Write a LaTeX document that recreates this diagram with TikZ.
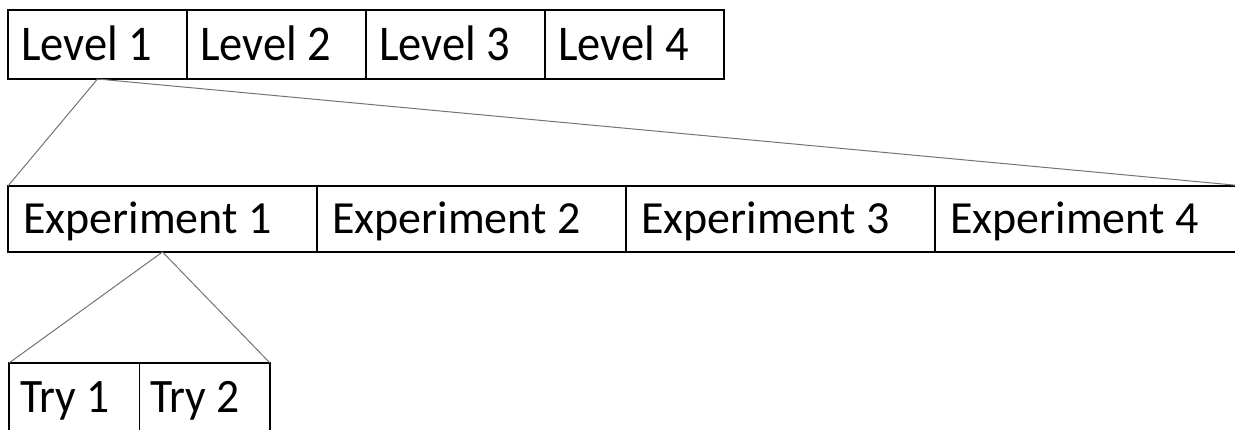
\documentclass[tikz,border=0pt]{standalone}
\usepackage{fontspec}
\setmainfont{Carlito}
\newfontfamily\levelfont[FakeStretch=0.93]{Carlito}
\newfontfamily\tryfont[FakeStretch=0.95]{Carlito}
\usepackage{tikz}
\usetikzlibrary{positioning}
\usetikzlibrary{calc}

\tikzset{
    cell/.style={draw, rectangle, line width=0.9pt, outer sep=0pt, inner ysep=0pt, text depth=0pt,
        align=flush left},
    levelcell/.style={cell, inner xsep=6.5pt, text width=76.5pt, minimum height=34.5pt,
        text height=16pt, font=\levelfont\fontsize{25}{30}\selectfont},
    expcell/.style={cell, inner xsep=7.5pt, text width=139.5pt, minimum height=33pt,
        text height=14.6pt, font=\fontsize{23}{27}\selectfont},
    trycell/.style={cell, inner xsep=5.5pt, text width=54.25pt, minimum height=34pt,
        text height=15.5pt, font=\tryfont\fontsize{24}{29}\selectfont},
    zoomline/.style={line width=0.5pt, draw=black!55},
}

\begin{document}
\begin{tikzpicture}[x=0.5pt, y=0.5pt]
    \useasboundingbox (0,0) rectangle (1235,429);

    % levels
    \node[levelcell, anchor=north west] (lvl1) at (8,419) {Level 1};
    \node[levelcell, right=0pt of lvl1] (lvl2) {Level 2};
    \node[levelcell, right=0pt of lvl2] (lvl3) {Level 3};
    \node[levelcell, right=0pt of lvl3] (lvl4) {Level 4};

    % experiments
    \node[expcell, anchor=north west] (exp1) at (8,243) {Experiment 1};
    \node[expcell, right=0pt of exp1] (exp2) {Experiment 2};
    \node[expcell, right=0pt of exp2] (exp3) {Experiment 3};
    \node[expcell, right=0pt of exp3] (exp4) {Experiment 4};

    % tries
    \node[trycell, anchor=north west] (try1) at (9,66) {Try 1};
    \node[trycell, right=0pt of try1] (try2) {Try 2};

    \draw[zoomline] (exp1.north west) -- (lvl1.south) -- (exp4.north east);
    \draw[zoomline] (try1.north west) -- (exp1.south) -- (try2.north east);
\end{tikzpicture}
\end{document}
